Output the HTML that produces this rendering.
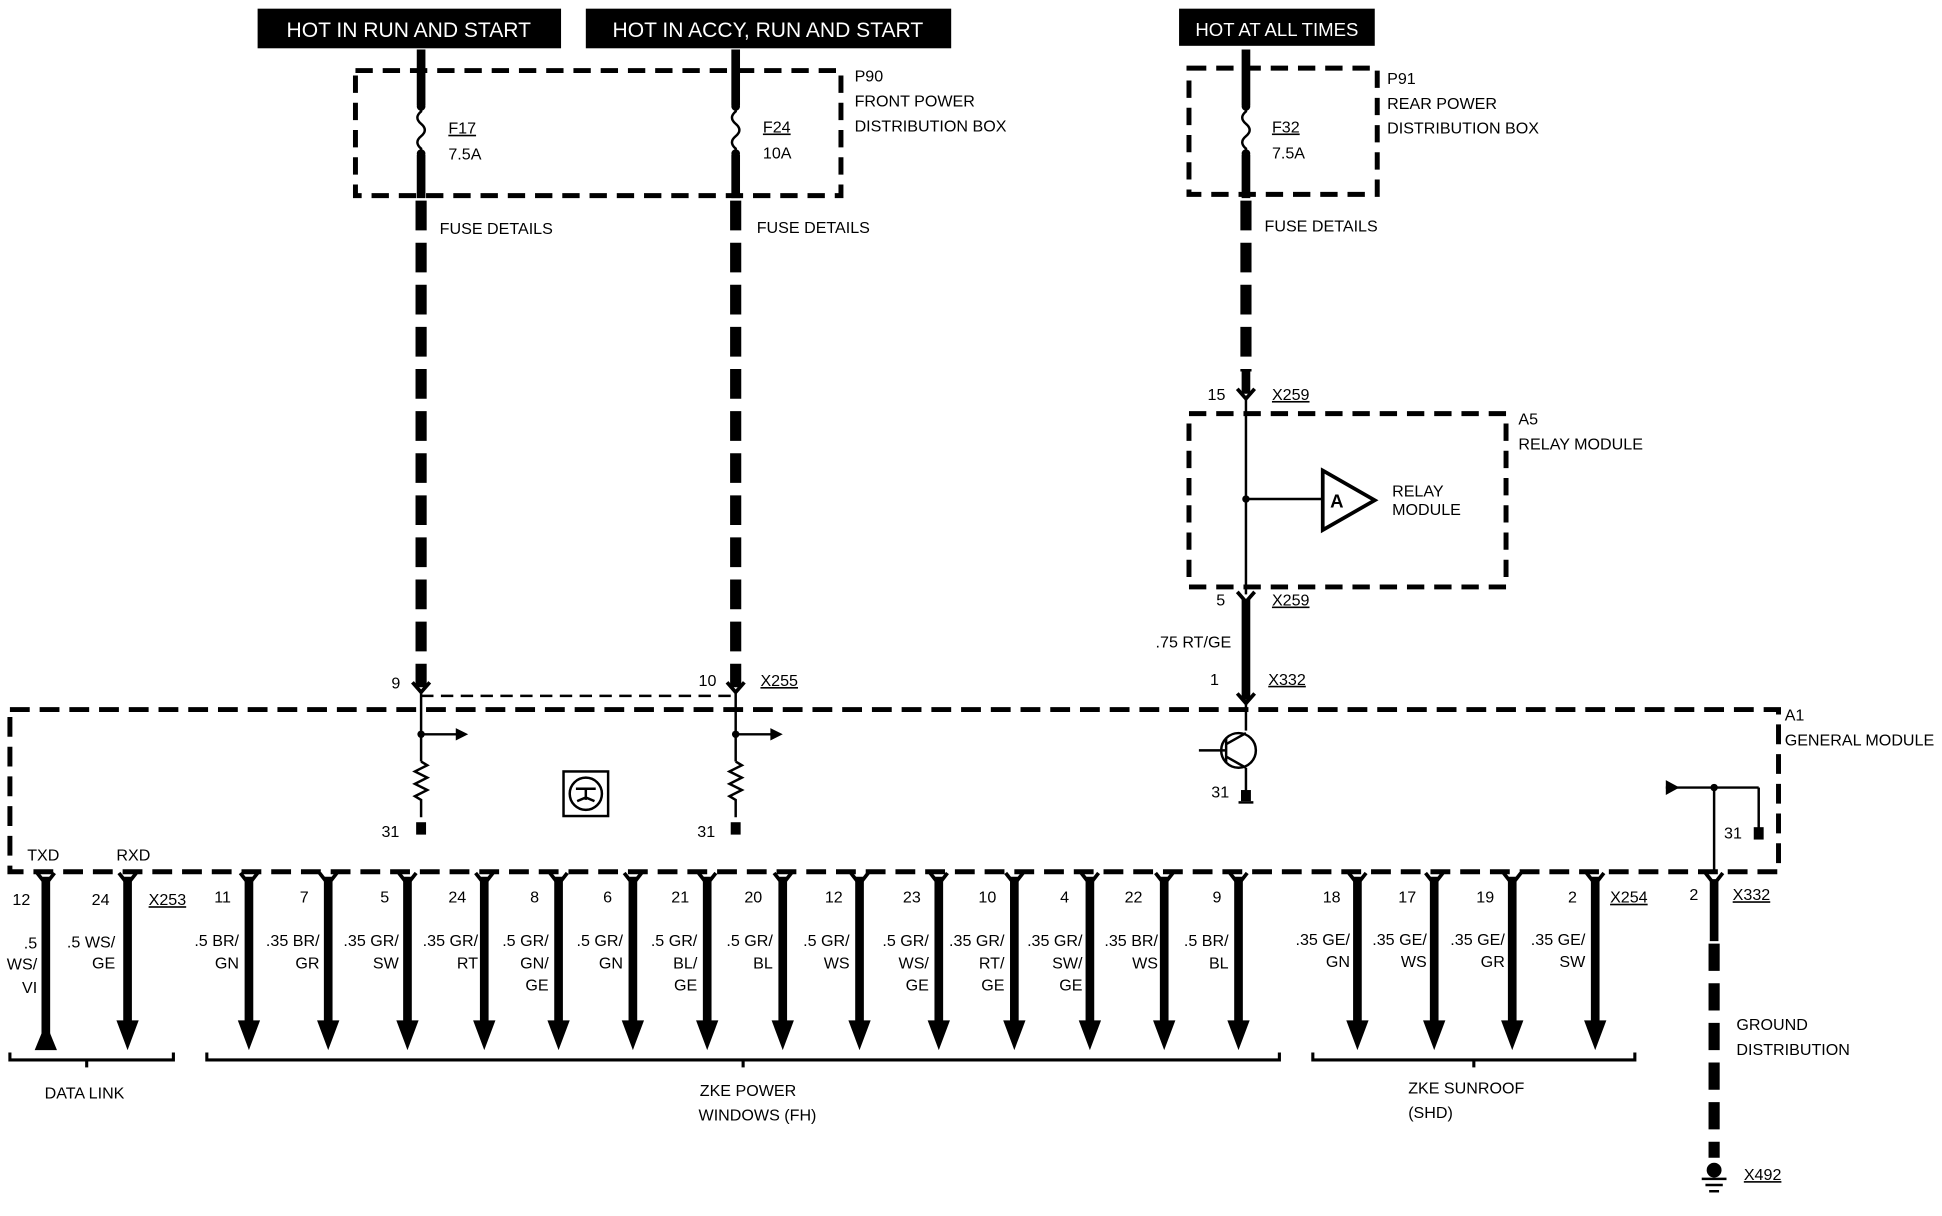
<!DOCTYPE html>
<html><head><meta charset="utf-8"><style>
html,body{margin:0;padding:0;background:#fff}
svg{display:block}
text{font-family:"Liberation Sans",sans-serif;font-size:13px;fill:#000}
.w text{text-anchor:end}
</style></head><body>
<svg width="1942" height="1216" viewBox="0 0 1568 982" preserveAspectRatio="none" xmlns="http://www.w3.org/2000/svg">
<defs>
<g id="wd">
<line x1="0" y1="708" x2="0" y2="830" stroke="#000" stroke-width="7"/>
<polygon points="-9,824 9,824 0,848" fill="#000"/>
<polyline points="-7,705 0,714 7,705" fill="none" stroke="#000" stroke-width="3"/>
</g>
</defs>
<!-- header labels -->
<rect x="208" y="7" width="245" height="32" fill="#000"/>
<text x="330" y="30" text-anchor="middle" style="fill:#fff;font-size:17px">HOT IN RUN AND START</text>
<rect x="473" y="7" width="295" height="32" fill="#000"/>
<text x="620" y="30" text-anchor="middle" style="fill:#fff;font-size:17px">HOT IN ACCY, RUN AND START</text>
<rect x="952" y="7" width="158" height="30" fill="#000"/>
<text x="1031" y="29" text-anchor="middle" style="fill:#fff;font-size:15px">HOT AT ALL TIMES</text>

<!-- P90 box -->
<rect x="287" y="57" width="392" height="101" fill="none" stroke="#000" stroke-width="4" stroke-dasharray="14 8"/>
<g stroke="#000" fill="none">
<line x1="340" y1="40" x2="340" y2="85" stroke-width="7"/>
<path d="M340 85 v5 q-6 5 0 10 q6 5 0 10 q-6 5 0 10 v5" stroke-width="2"/>
<line x1="340" y1="125" x2="340" y2="160" stroke-width="7"/>
<line x1="340" y1="162" x2="340" y2="555" stroke-width="9" stroke-dasharray="24 10"/>
<line x1="594" y1="40" x2="594" y2="85" stroke-width="7"/>
<path d="M594 85 v5 q-6 5 0 10 q6 5 0 10 q-6 5 0 10 v5" stroke-width="2"/>
<line x1="594" y1="125" x2="594" y2="160" stroke-width="7"/>
<line x1="594" y1="162" x2="594" y2="555" stroke-width="9" stroke-dasharray="24 10"/>
</g>
<circle cx="340" cy="86" r="3.5"/><circle cx="340" cy="124" r="3.5"/>
<circle cx="594" cy="86" r="3.5"/><circle cx="594" cy="124" r="3.5"/>
<text x="362" y="108" text-decoration="underline">F17</text><text x="362" y="129">7.5A</text>
<text x="616" y="107" text-decoration="underline">F24</text><text x="616" y="128">10A</text>
<text x="690" y="66">P90</text><text x="690" y="86">FRONT POWER</text><text x="690" y="106">DISTRIBUTION BOX</text>
<text x="355" y="189">FUSE DETAILS</text><text x="611" y="188">FUSE DETAILS</text>

<!-- P91 -->
<rect x="960" y="55" width="152" height="102" fill="none" stroke="#000" stroke-width="4" stroke-dasharray="14 8"/>
<g stroke="#000" fill="none">
<line x1="1006" y1="40" x2="1006" y2="85" stroke-width="7"/>
<path d="M1006 85 v5 q-6 5 0 10 q6 5 0 10 q-6 5 0 10 v5" stroke-width="2"/>
<line x1="1006" y1="125" x2="1006" y2="160" stroke-width="7"/>
<line x1="1006" y1="162" x2="1006" y2="300" stroke-width="9" stroke-dasharray="24 10"/>
<line x1="1006" y1="300" x2="1006" y2="318" stroke-width="7"/>
<polyline points="999,314 1006,322 1013,314" stroke-width="3"/>
<line x1="1006" y1="322" x2="1006" y2="480" stroke-width="2"/>
<line x1="1006" y1="403" x2="1068" y2="403" stroke-width="2"/>
<polygon points="1068,380 1110,404 1068,428" stroke-width="3"/>
<polyline points="999,478 1006,486 1013,478" stroke-width="3"/>
<line x1="1006" y1="484" x2="1006" y2="565" stroke-width="7"/>
<polyline points="999,560 1006,568 1013,560" stroke-width="3"/>
</g>
<circle cx="1006" cy="86" r="3.5"/><circle cx="1006" cy="124" r="3.5"/>
<circle cx="1006" cy="403" r="3"/>
<text x="1074" y="410" style="font-weight:bold;font-size:15px">A</text>
<text x="1027" y="107" text-decoration="underline">F32</text><text x="1027" y="128">7.5A</text>
<text x="1120" y="68">P91</text><text x="1120" y="88">REAR POWER</text><text x="1120" y="108">DISTRIBUTION BOX</text>
<text x="1021" y="187">FUSE DETAILS</text>
<text x="975" y="323">15</text><text x="1027" y="323" text-decoration="underline">X259</text>
<rect x="960" y="334" width="256" height="140" fill="none" stroke="#000" stroke-width="4" stroke-dasharray="14 8"/>
<text x="1124" y="401">RELAY</text><text x="1124" y="416">MODULE</text>
<text x="1226" y="343">A5</text><text x="1226" y="363">RELAY MODULE</text>
<text x="982" y="489">5</text><text x="1027" y="489" text-decoration="underline">X259</text>
<text x="933" y="523">.75 RT/GE</text>
<text x="977" y="553">1</text><text x="1024" y="553" text-decoration="underline">X332</text>

<!-- connectors 9 / 10 -->
<g stroke="#000" fill="none">
<polyline points="333,551 340,559 347,551" stroke-width="3"/>
<polyline points="587,551 594,559 601,551" stroke-width="3"/>
<line x1="340" y1="562" x2="594" y2="562" stroke-width="2" stroke-dasharray="10 6"/>
<line x1="340" y1="559" x2="340" y2="615" stroke-width="2"/>
<path d="M340 615 l5 3 l-10 5 l10 5 l-10 5 l10 5 l-10 5 l5 3 v14" stroke-width="2"/>
<line x1="340" y1="593" x2="370" y2="593" stroke-width="2"/>
<line x1="594" y1="559" x2="594" y2="615" stroke-width="2"/>
<path d="M594 615 l5 3 l-10 5 l10 5 l-10 5 l10 5 l-10 5 l5 3 v14" stroke-width="2"/>
<line x1="594" y1="593" x2="624" y2="593" stroke-width="2"/>
</g>
<circle cx="340" cy="593" r="3"/><circle cx="594" cy="593" r="3"/>
<polygon points="368,588 378,593 368,598"/><polygon points="622,588 632,593 622,598"/>
<rect x="336" y="664" width="8" height="10"/><rect x="590" y="664" width="8" height="10"/>
<text x="308" y="676">31</text><text x="563" y="676">31</text>
<text x="316" y="556">9</text><text x="564" y="554">10</text><text x="614" y="554" text-decoration="underline">X255</text>
<rect x="455" y="623" width="36" height="36" fill="none" stroke="#000" stroke-width="2"/>
<circle cx="473" cy="641" r="13" fill="none" stroke="#000" stroke-width="2"/>
<path d="M465 637 h16 M473 637 v9 M466 647 l7 -3 l7 3" fill="none" stroke="#000" stroke-width="2"/>

<!-- A1 box -->
<rect x="8" y="573" width="1428" height="131" fill="none" stroke="#000" stroke-width="4" stroke-dasharray="16 8"/>
<text x="1441" y="582">A1</text><text x="1441" y="602">GENERAL MODULE</text>
<!-- transistor -->
<g stroke="#000" fill="none" stroke-width="2">
<line x1="1006" y1="565" x2="1006" y2="590"/>
<circle cx="1000" cy="606" r="14"/>
<line x1="968" y1="606" x2="990" y2="606"/>
<line x1="990" y1="596" x2="990" y2="616"/>
<line x1="990" y1="601" x2="1006" y2="592"/>
<line x1="990" y1="611" x2="1006" y2="620"/>
<line x1="1006" y1="620" x2="1006" y2="645"/>
<line x1="1000" y1="648" x2="1012" y2="648"/>
<line x1="1345" y1="636" x2="1420" y2="636"/>
<line x1="1420" y1="636" x2="1420" y2="670"/>
<line x1="1384" y1="636" x2="1384" y2="704"/>
</g>
<rect x="1002" y="638" width="8" height="9"/>
<polygon points="1345,630 1356,636 1345,642"/>
<circle cx="1384" cy="636" r="3"/>
<rect x="1416" y="668" width="8" height="10"/>
<text x="978" y="644">31</text><text x="1392" y="677">31</text>

<!-- top labels row -->
<text x="22" y="695">TXD</text><text x="94" y="695">RXD</text>
<text x="10" y="731">12</text><text x="74" y="731">24</text><text x="120" y="731" text-decoration="underline">X253</text>
<text x="173" y="729">11</text><text x="242" y="729">7</text><text x="307" y="729">5</text><text x="362" y="729">24</text>
<text x="428" y="729">8</text><text x="487" y="729">6</text><text x="542" y="729">21</text><text x="601" y="729">20</text>
<text x="666" y="729">12</text><text x="729" y="729">23</text><text x="790" y="729">10</text><text x="856" y="729">4</text>
<text x="908" y="729">22</text><text x="979" y="729">9</text><text x="1068" y="729">18</text><text x="1129" y="729">17</text>
<text x="1192" y="729">19</text><text x="1266" y="729">2</text><text x="1300" y="729" text-decoration="underline">X254</text>
<text x="1364" y="727">2</text><text x="1399" y="727" text-decoration="underline">X332</text>

<!-- TXD wire (arrow up) -->
<g class="w" transform="translate(37,0)">
<line x1="0" y1="708" x2="0" y2="836" stroke="#000" stroke-width="7"/>
<polygon points="-9,848 9,848 0,826" fill="#000"/>
<polyline points="-7,705 0,714 7,705" fill="none" stroke="#000" stroke-width="3"/>
<text x="-7" y="766">.5</text><text x="-7" y="783">WS/</text><text x="-7" y="802">VI</text>
</g>
<g class="w" transform="translate(103,0)"><use href="#wd"/><text x="-10" y="765">.5 WS/</text><text x="-10" y="782">GE</text></g>
<g class="w" transform="translate(201,0)"><use href="#wd"/><text x="-8" y="764">.5 BR/</text><text x="-8" y="782">GN</text></g>
<g class="w" transform="translate(265,0)"><use href="#wd"/><text x="-7" y="764">.35 BR/</text><text x="-7" y="782">GR</text></g>
<g class="w" transform="translate(329,0)"><use href="#wd"/><text x="-7" y="764">.35 GR/</text><text x="-7" y="782">SW</text></g>
<g class="w" transform="translate(391,0)"><use href="#wd"/><text x="-5" y="764">.35 GR/</text><text x="-5" y="782">RT</text></g>
<g class="w" transform="translate(451,0)"><use href="#wd"/><text x="-8" y="764">.5 GR/</text><text x="-8" y="782">GN/</text><text x="-8" y="800">GE</text></g>
<g class="w" transform="translate(511,0)"><use href="#wd"/><text x="-8" y="764">.5 GR/</text><text x="-8" y="782">GN</text></g>
<g class="w" transform="translate(571,0)"><use href="#wd"/><text x="-8" y="764">.5 GR/</text><text x="-8" y="782">BL/</text><text x="-8" y="800">GE</text></g>
<g class="w" transform="translate(632,0)"><use href="#wd"/><text x="-8" y="764">.5 GR/</text><text x="-8" y="782">BL</text></g>
<g class="w" transform="translate(694,0)"><use href="#wd"/><text x="-8" y="764">.5 GR/</text><text x="-8" y="782">WS</text></g>
<g class="w" transform="translate(758,0)"><use href="#wd"/><text x="-8" y="764">.5 GR/</text><text x="-8" y="782">WS/</text><text x="-8" y="800">GE</text></g>
<g class="w" transform="translate(819,0)"><use href="#wd"/><text x="-8" y="764">.35 GR/</text><text x="-8" y="782">RT/</text><text x="-8" y="800">GE</text></g>
<g class="w" transform="translate(880,0)"><use href="#wd"/><text x="-6" y="764">.35 GR/</text><text x="-6" y="782">SW/</text><text x="-6" y="800">GE</text></g>
<g class="w" transform="translate(940,0)"><use href="#wd"/><text x="-5" y="764">.35 BR/</text><text x="-5" y="782">WS</text></g>
<g class="w" transform="translate(1000,0)"><use href="#wd"/><text x="-8" y="764">.5 BR/</text><text x="-8" y="782">BL</text></g>
<g class="w" transform="translate(1096,0)"><use href="#wd"/><text x="-6" y="763">.35 GE/</text><text x="-6" y="781">GN</text></g>
<g class="w" transform="translate(1158,0)"><use href="#wd"/><text x="-6" y="763">.35 GE/</text><text x="-6" y="781">WS</text></g>
<g class="w" transform="translate(1221,0)"><use href="#wd"/><text x="-6" y="763">.35 GE/</text><text x="-6" y="781">GR</text></g>
<g class="w" transform="translate(1288,0)"><use href="#wd"/><text x="-8" y="763">.35 GE/</text><text x="-8" y="781">SW</text></g>

<!-- ground wire -->
<g stroke="#000" fill="none">
<polyline points="1377,705 1384,714 1391,705" stroke-width="3"/>
<line x1="1384" y1="710" x2="1384" y2="760" stroke-width="7"/>
<line x1="1384" y1="762" x2="1384" y2="935" stroke-width="9" stroke-dasharray="22 10"/>
<line x1="1374" y1="952" x2="1394" y2="952" stroke-width="2"/>
<line x1="1377" y1="957" x2="1391" y2="957" stroke-width="2"/>
<line x1="1380" y1="962" x2="1388" y2="962" stroke-width="2"/>
</g>
<circle cx="1384" cy="945" r="6"/>
<text x="1402" y="832">GROUND</text><text x="1402" y="852">DISTRIBUTION</text>
<text x="1408" y="953" text-decoration="underline">X492</text>

<!-- brackets -->
<g stroke="#000" fill="none" stroke-width="2.5">
<polyline points="8,850 8,856 140,856 140,850"/>
<line x1="70" y1="856" x2="70" y2="862"/>
<polyline points="167,850 167,856 1033,856 1033,850"/>
<line x1="600" y1="856" x2="600" y2="862"/>
<polyline points="1060,850 1060,856 1320,856 1320,850"/>
<line x1="1190" y1="856" x2="1190" y2="862"/>
</g>
<text x="36" y="887">DATA LINK</text>
<text x="565" y="885">ZKE POWER</text><text x="564" y="905">WINDOWS (FH)</text>
<text x="1137" y="883">ZKE SUNROOF</text><text x="1137" y="903">(SHD)</text>
</svg>
</body></html>
